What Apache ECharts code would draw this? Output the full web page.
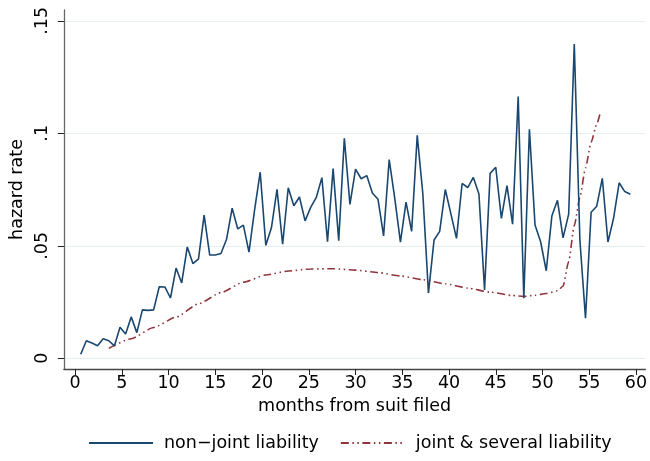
<!DOCTYPE html>
<html>
<head>
<meta charset="utf-8">
<script src="https://cdn.jsdelivr.net/npm/echarts@6/dist/echarts.min.js"></script>
<style>
html,body{margin:0;padding:0;background:#fff;}
#chart{width:650px;height:461px;}
</style>
</head>
<body>
<div id="chart"></div>
<script>
// months from suit filed (sampling grid of the non-joint hazard)
var months = [0.6,1.2,1.8,2.4,3.0,3.6,4.2,4.8,5.4,6.0,
  6.6,7.2,7.8,8.4,9.0,9.6,10.2,10.8,11.4,12.0,
  12.6,13.2,13.8,14.4,15.0,15.6,16.2,16.8,17.4,18.0,
  18.6,19.2,19.8,20.4,21.0,21.6,22.2,22.8,23.4,24.0,
  24.6,25.2,25.8,26.4,27.0,27.6,28.2,28.8,29.4,30.0,
  30.6,31.2,31.8,32.4,33.0,33.6,34.2,34.8,35.4,36.0,
  36.6,37.2,37.8,38.4,39.0,39.6,40.2,40.8,41.4,42.0,
  42.6,43.2,43.8,44.4,45.0,45.6,46.2,46.8,47.4,48.0,
  48.6,49.2,49.8,50.4,51.0,51.6,52.2,52.8,53.4,54.0,
  54.6,55.2,55.8,56.4,57.0,57.6,58.2,58.8,59.4];
var nonJoint = [0.0018,0.0078,0.0068,0.0056,0.0087,0.0078,0.0055,0.0138,0.0108,0.0184,
  0.0114,0.0215,0.0213,0.0215,0.0318,0.0317,0.0268,0.0401,0.0335,0.0495,
  0.0421,0.0442,0.0636,0.0459,0.0459,0.0466,0.0529,0.0667,0.0575,0.0592,
  0.0472,0.0660,0.0827,0.0502,0.0580,0.0751,0.0507,0.0758,0.0678,0.0717,
  0.0611,0.0671,0.0715,0.0803,0.0518,0.0843,0.0523,0.0978,0.0684,0.0841,
  0.0798,0.0812,0.0735,0.0707,0.0544,0.0883,0.0710,0.0516,0.0694,0.0564,
  0.0991,0.0730,0.0290,0.0526,0.0564,0.0750,0.0642,0.0533,0.0777,0.0759,
  0.0804,0.0730,0.0304,0.0822,0.0849,0.0622,0.0767,0.0596,0.1163,0.0267,
  0.1018,0.0592,0.0518,0.0389,0.0632,0.0702,0.0535,0.0641,0.1397,0.0526,
  0.0178,0.0649,0.0676,0.0800,0.0517,0.0622,0.0780,0.0741,0.0729];
var jointMonths = [3.6,6.0,8.4,10.8,13.2,15.6,18.0,20.4,22.8,25.2,27.6,30.0,32.4,34.8,37.2,39.6,
  42.0,44.4,46.8,48.0,49.2,50.4,51.6,52.2,52.8,53.4,54.0,54.6,55.2,55.8,56.2];
var jointSeveral = [0.0044,0.0087,0.0137,0.0183,0.0242,0.0292,0.0338,0.0370,0.0388,0.0397,0.0398,0.0392,
  0.0381,0.0366,0.0349,0.0331,0.0312,0.0294,0.0279,0.0275,0.0280,0.0288,0.0300,0.0321,0.0430,0.0590,
  0.0715,0.0846,0.0960,0.1040,0.1095];
var xTicks = [0,5,10,15,20,25,30,35,40,45,50,55,60];
var yTicks = [0,0.05,0.1,0.15];
var seriesNames = ['non\u2212joint liability','joint & several liability'];

var FONT = 'DejaVu Sans';
var blueData = months.map(function(m,i){return [m, nonJoint[i]];});
var redData = jointMonths.map(function(m,i){return [m, jointSeveral[i]];});

var chart = echarts.init(document.getElementById('chart'), null, {renderer:'canvas'});
chart.setOption({
  animation:false,
  backgroundColor:'#fff',
  textStyle:{fontFamily:FONT},
  grid:{left:57, right:0, top:10, bottom:92, containLabel:false},
  xAxis:{
    type:'value', min:-1.2, max:61,
    name:'months from suit filed', nameLocation:'middle', nameGap:28,
    nameTextStyle:{fontFamily:FONT, fontSize:17.5, color:'#000'},
    axisLine:{onZero:false, lineStyle:{color:'#444', width:1.3}},
    axisTick:{show:true, length:6, customValues:xTicks, lineStyle:{color:'#222', width:1}},
    axisLabel:{customValues:xTicks, fontFamily:FONT, fontSize:17.5, color:'#000', margin:5},
    splitLine:{show:false}
  },
  yAxis:{
    type:'value', min:-0.00476, max:0.1548,
    name:'hazard rate', nameLocation:'middle', nameGap:32, nameRotate:90,
    nameTextStyle:{fontFamily:FONT, fontSize:17.5, color:'#000'},
    axisLine:{show:true, onZero:false, lineStyle:{color:'#666', width:1.3}},
    axisTick:{show:true, length:6, customValues:yTicks, lineStyle:{color:'#222', width:1}},
    axisLabel:{customValues:yTicks, rotate:90, fontFamily:FONT, fontSize:17.5, color:'#000', margin:12,
      formatter:function(v){ return v===0 ? '0' : String(+v.toFixed(4)).replace(/^0/,''); }},
    splitLine:{show:true, lineStyle:{color:'#e6eef2', width:1.2}}
  },
  legend:{
    left:88, top:434, padding:0, itemGap:21, itemWidth:64, itemHeight:14,
    itemStyle:{opacity:0},
    textStyle:{fontFamily:FONT, fontSize:17.5, color:'#000', padding:[0,0,0,6]},
    data:seriesNames
  },
  series:[
    {name:seriesNames[0], type:'line', data:blueData, symbol:'none', showSymbol:false,
      lineStyle:{color:'#1a476f', width:1.6}, itemStyle:{color:'#1a476f'}, z:3},
    {name:seriesNames[1], type:'line', data:redData, symbol:'none', showSymbol:false,
      smooth:0.2, smoothMonotone:'x',
      lineStyle:{color:'#90353b', width:1.6, type:[8,3.5,1.5,3.5,1.5,3.5]}, itemStyle:{color:'#90353b'}, z:2}
  ]
});
</script>
</body>
</html>
